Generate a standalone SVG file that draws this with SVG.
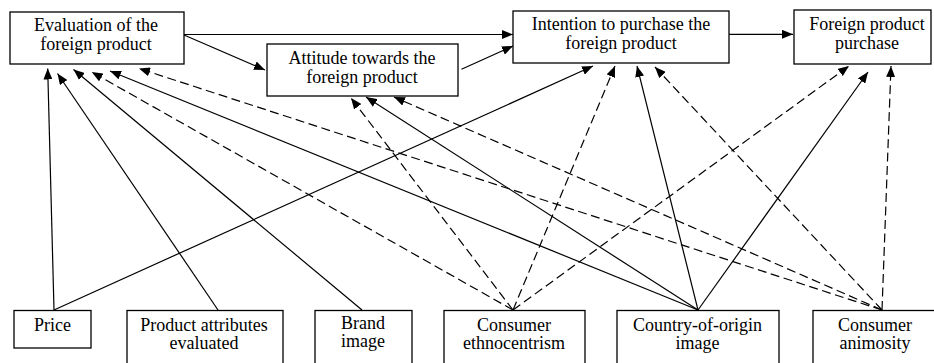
<svg xmlns="http://www.w3.org/2000/svg" width="934" height="363" viewBox="0 0 934 363">
<style>
.box{fill:#fff;stroke:#000;stroke-width:1.3}
.t{font-family:"Liberation Serif","Times New Roman",serif;font-size:18px;fill:#000;text-anchor:middle}
.c{fill:none;stroke:#000;stroke-width:1.2;marker-end:url(#ah)}
.d{stroke-dasharray:9,4.5}
</style>
<defs>
<marker id="ah" markerUnits="userSpaceOnUse" markerWidth="11" markerHeight="9" refX="11" refY="4.5" orient="auto">
<path d="M0,0 L11,4.5 L0,9 z" fill="#000"/>
</marker>
</defs>
<rect width="934" height="363" fill="#fff"/>
<g id="connectors">
<path class="c" d="M184,35 L265,70"/>
<path class="c" d="M184,34.5 L513,34.5"/>
<path class="c" d="M461.5,69.3 L513,46"/>
<path class="c" d="M729,34.3 L793,34.3"/>
<path class="c" d="M54,310 L47.7,68.5"/>
<path class="c" d="M218,310 L57.5,73.5"/>
<path class="c" d="M362,310 L73.5,69.5"/>
<path class="c d" d="M513,310 L91.7,72"/>
<path class="c" d="M698,310 L110,71"/>
<path class="c d" d="M882,310 L139,68.5"/>
<path class="c d" d="M513,310 L351,98"/>
<path class="c" d="M698,310 L366,97"/>
<path class="c d" d="M882,310 L394,97"/>
<path class="c" d="M54,310 L593,66"/>
<path class="c d" d="M513,310 L615,66"/>
<path class="c" d="M698,310 L637,66"/>
<path class="c d" d="M882,310 L655,67"/>
<path class="c d" d="M513,310 L849,66"/>
<path class="c" d="M698,310 L868,72"/>
<path class="c d" d="M882,310 L891,66"/>
</g>
<g id="evaluation">
<rect class="box" x="10" y="12" width="174" height="52"/>
<text class="t" x="96" y="31">Evaluation of the</text>
<text class="t" x="96" y="50">foreign product</text>
</g>
<g id="attitude">
<rect class="box" x="267" y="44" width="191" height="52"/>
<text class="t" x="362" y="63.5">Attitude towards the</text>
<text class="t" x="362" y="82.5">foreign product</text>
</g>
<g id="intention">
<rect class="box" x="513" y="11" width="216" height="52"/>
<text class="t" x="621" y="30">Intention to purchase the</text>
<text class="t" x="621" y="49">foreign product</text>
</g>
<g id="purchase">
<rect class="box" x="794" y="10" width="137" height="54"/>
<text class="t" x="867" y="30">Foreign product</text>
<text class="t" x="867" y="49">purchase</text>
</g>
<g id="price">
<rect class="box" x="14" y="310.5" width="77" height="37.5"/>
<text class="t" x="52.5" y="331">Price</text>
</g>
<g id="attributes">
<rect class="box" x="127" y="310.5" width="156" height="70"/>
<text class="t" x="204" y="330.5">Product attributes</text>
<text class="t" x="204" y="349">evaluated</text>
</g>
<g id="brand">
<rect class="box" x="315" y="310.5" width="97" height="70"/>
<text class="t" x="363" y="328.5">Brand</text>
<text class="t" x="363" y="347">image</text>
</g>
<g id="ethnocentrism">
<rect class="box" x="444" y="310.5" width="141" height="70"/>
<text class="t" x="514" y="330.5">Consumer</text>
<text class="t" x="514" y="349">ethnocentrism</text>
</g>
<g id="country">
<rect class="box" x="617" y="310.5" width="162" height="70"/>
<text class="t" x="697.5" y="330.5">Country-of-origin</text>
<text class="t" x="697.5" y="349">image</text>
</g>
<g id="animosity">
<rect class="box" x="813" y="310.5" width="125" height="70"/>
<text class="t" x="875" y="330.5">Consumer</text>
<text class="t" x="875" y="349">animosity</text>
</g>
</svg>
